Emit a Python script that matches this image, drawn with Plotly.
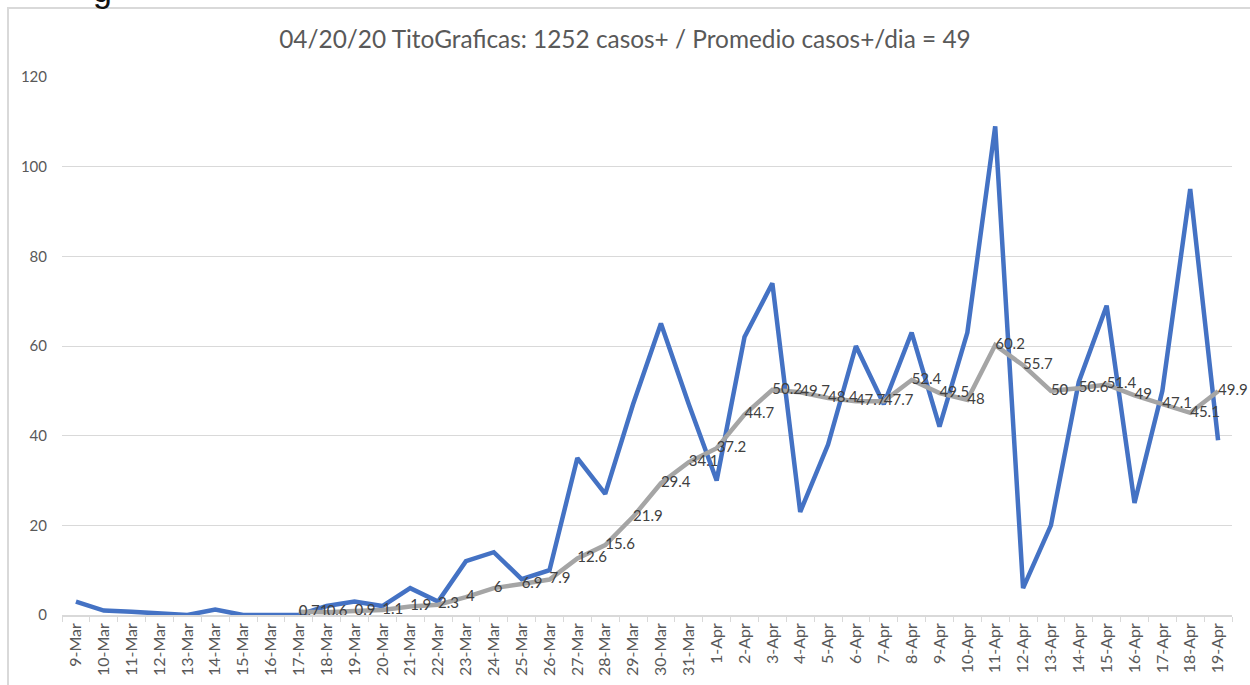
import plotly.graph_objects as go

# --- data ---
dates = ["9-Mar", "10-Mar", "11-Mar", "12-Mar", "13-Mar", "14-Mar", "15-Mar", "16-Mar",
         "17-Mar", "18-Mar", "19-Mar", "20-Mar", "21-Mar", "22-Mar", "23-Mar", "24-Mar",
         "25-Mar", "26-Mar", "27-Mar", "28-Mar", "29-Mar", "30-Mar", "31-Mar",
         "1-Apr", "2-Apr", "3-Apr", "4-Apr", "5-Apr", "6-Apr", "7-Apr", "8-Apr", "9-Apr",
         "10-Apr", "11-Apr", "12-Apr", "13-Apr", "14-Apr", "15-Apr", "16-Apr", "17-Apr",
         "18-Apr", "19-Apr"]

daily_cases = [3, 1, 0.7, 0.4, 0, 1.2, 0, 0, 0, 2, 3, 2, 6, 3, 12, 14, 8, 10, 35, 27, 47, 65,
               47, 30, 62, 74, 23, 38, 60, 47, 63, 42, 63, 109, 6, 20, 52, 69, 25, 50, 95, 39]

avg_dates = dates[8:]
avg_cases = [0.71, 0.6, 0.9, 1.1, 1.9, 2.3, 4, 6, 6.9, 7.9, 12.6, 15.6, 21.9, 29.4, 34.1,
             37.2, 44.7, 50.2, 49.7, 48.4, 47.7, 47.7, 52.4, 49.5, 48, 60.2, 55.7, 50,
             50.6, 51.4, 49, 47.1, 45.1, 49.9]
avg_labels = [f"{v:g}" for v in avg_cases]

TITLE = "04/20/20 TitoGraficas: 1252 casos+ / Promedio casos+/dia = 49"

# --- style ---
BLUE = "#4472C4"
GRAY = "#A5A5A5"
GRID = "#D9D9D9"
TEXT = "#595959"
FONT = "Lato, 'Open Sans', sans-serif"

fig = go.Figure()

fig.add_trace(go.Scatter(
    x=dates, y=daily_cases, mode="lines", name="casos+",
    line=dict(color=BLUE, width=4.5), showlegend=False
))
fig.add_trace(go.Scatter(
    x=avg_dates, y=avg_cases, mode="lines", name="promedio",
    line=dict(color=GRAY, width=4.5), showlegend=False
))
# labels on top of both lines
fig.add_trace(go.Scatter(
    x=avg_dates, y=avg_cases, mode="text", text=avg_labels,
    textposition="middle right", cliponaxis=False,
    textfont=dict(family=FONT, size=15, color="#404040"),
    showlegend=False, hoverinfo="skip"
))

fig.update_layout(
    width=1250, height=685,
    title=dict(text=TITLE, x=0.5, xanchor="center", y=0.943, yanchor="middle",
               font=dict(family=FONT, size=24.4, color=TEXT)),
    font=dict(family=FONT, color=TEXT),
    paper_bgcolor="white", plot_bgcolor="white",
    margin=dict(l=62, r=18, t=77, b=70),
    shapes=[dict(type="rect", xref="paper", yref="paper",
                 x0=(8 - 62) / 1170, x1=1.1, y0=-0.2, y1=(615 - 8) / 538,
                 line=dict(color=GRID, width=2), layer="below")],
    annotations=[dict(text="g", xref="paper", yref="paper",
                      x=(92 - 62) / 1170, xanchor="left",
                      y=(615 - 10) / 538, yanchor="bottom",
                      showarrow=False, borderpad=0,
                      font=dict(family="Liberation Sans", size=34, color="#111111"))]
)

fig.update_xaxes(
    type="category", range=[-0.5, len(dates) - 0.5],
    tickangle=-90, tickfont=dict(size=16, color=TEXT),
    showline=True, linecolor=GRID, linewidth=1.5,
    ticks="outside", tickson="boundaries", ticklen=5, tickcolor=GRID,
    showgrid=False, automargin=False
)
fig.update_yaxes(
    range=[0, 120], dtick=20, tickfont=dict(size=15, color=TEXT),
    showgrid=True, gridcolor=GRID, gridwidth=1, zeroline=False,
    showline=False, ticks="", ticklabelstandoff=14, automargin=False
)

# page body margin would shift the chart by 8px
fig.write_html("out.html", config={"displayModeBar": False},
               post_script="document.body.style.margin='0px';")
